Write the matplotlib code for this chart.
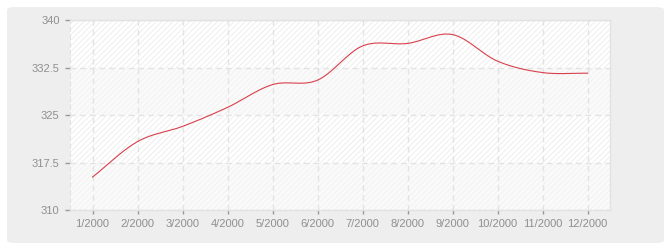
import numpy as np
import matplotlib.pyplot as plt
from matplotlib.patches import FancyBboxPatch

# values
months = ["1/2000", "2/2000", "3/2000", "4/2000", "5/2000", "6/2000",
          "7/2000", "8/2000", "9/2000", "10/2000", "11/2000", "12/2000"]
values = [315.2, 320.8, 323.2, 326.2, 329.8, 330.5,
          335.9, 336.3, 337.7, 333.5, 331.7, 331.6]
y_ticks = [310, 317.5, 325, 332.5, 340]
y_labels = ["310", "317.5", "325", "332.5", "340"]

plt.rcParams["font.family"] = ["Liberation Sans", "DejaVu Sans"]
plt.rcParams["hatch.linewidth"] = 0.6


def smooth_curve(y, steps=30):
    # cardinal (Catmull-Rom) spline through the points, only for drawing
    y = np.asarray(y, dtype=float)
    n = len(y)
    m = np.zeros(n)
    m[1:-1] = (y[2:] - y[:-2]) / 2.0
    m[0] = y[1] - y[0]
    m[-1] = y[-1] - y[-2]
    xs, ys = [], []
    for i in range(n - 1):
        t = np.linspace(0, 1, steps, endpoint=(i == n - 2))
        h00 = 2 * t**3 - 3 * t**2 + 1
        h10 = t**3 - 2 * t**2 + t
        h01 = -2 * t**3 + 3 * t**2
        h11 = t**3 - t**2
        xs.append(i + t)
        ys.append(h00 * y[i] + h10 * m[i] + h01 * y[i + 1] + h11 * m[i + 1])
    return np.concatenate(xs), np.concatenate(ys)


fig = plt.figure(figsize=(6.7, 2.5), dpi=100)
fig.patch.set_facecolor("white")

# rounded grey panel behind the chart
panel = FancyBboxPatch((7 / 670, 7 / 250), 657 / 670, 236 / 250,
                       boxstyle="round,pad=0,rounding_size=0.012",
                       transform=fig.transFigure, facecolor="#eeeeee",
                       edgecolor="none", zorder=-10)
fig.add_artist(panel)

ax = fig.add_axes([70 / 670, 40 / 250, 540 / 670, 190 / 250])
ax.set_zorder(1)
ax.set_facecolor("white")
ax.set_xlim(-0.5, len(months) - 0.5)
ax.set_ylim(310, 340)

# alternating hatched bands
for i in range(len(y_ticks) - 1):
    lo, hi = y_ticks[i], y_ticks[i + 1]
    if i % 2 == 1:
        ax.axhspan(lo, hi, facecolor="white", edgecolor="#ececec",
                   hatch="//////", linewidth=0, zorder=0)
    else:
        ax.axhspan(lo, hi, facecolor="#fafafa", edgecolor="#f1f1f1",
                   hatch="//////", linewidth=0, zorder=0)

ax.grid(True, color="#e3e3e3", linestyle=(0, (4, 3)), linewidth=1, zorder=1)
ax.set_axisbelow(True)

sx, sy = smooth_curve(values)
ax.plot(sx, sy, color="#d8404c", linewidth=0.8, zorder=3)

ax.set_xticks(range(len(months)))
ax.set_xticklabels(months)
ax.set_yticks(y_ticks)
ax.set_yticklabels(y_labels)
ax.tick_params(axis="both", colors="#999999", labelcolor="#8f8f8f",
               labelsize=8, length=3.5, width=1, pad=4)
ax.tick_params(axis="x", length=3, pad=3.5)

for side in ["top", "right", "bottom"]:
    ax.spines[side].set_color("#e2e2e2")
    ax.spines[side].set_linewidth(1)
ax.spines["left"].set_color("#e2e2e2")
ax.spines["left"].set_linestyle((0, (4, 3)))

fig.savefig("out.png", dpi=100, facecolor=fig.get_facecolor())
